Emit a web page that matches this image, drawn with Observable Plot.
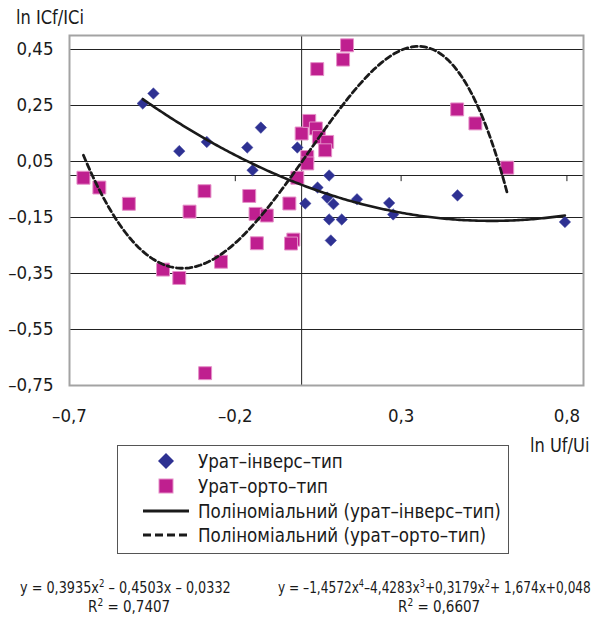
<!DOCTYPE html>
<html>
<head>
<meta charset="utf-8">
<script src="https://cdn.jsdelivr.net/npm/d3@7"></script>
<script src="https://cdn.jsdelivr.net/npm/@observablehq/plot@0.6"></script>
<style>
  html, body { margin: 0; padding: 0; background: #fff; overflow: hidden; }
  #wrap { position: relative; width: 594px; height: 624px; font-family: "Liberation Sans Narrow", "DejaVu Sans Condensed", sans-serif; color: #1a1a1a; }
  #chart { position: absolute; left: 0; top: 0; }
  .abs { position: absolute; white-space: nowrap; transform-origin: 0 50%; }
  #legend { position: absolute; left: 117px; top: 445px; width: 390px; height: 107px; border: 1.5px solid #555; background: #fff; }
  .li { position: absolute; left: 0; height: 24px; font-size: 20px; line-height: 24px; white-space: nowrap; }
  .li svg { position: absolute; top: 0; }
  .li span { position: absolute; left: 80px; transform: scaleX(0.93); transform-origin: 0 50%; }
  sup { font-size: 10px; }
</style>
</head>
<body>
<div id="wrap">
  <div id="chart"></div>
  <div class="abs" style="left:16px; top:6px; font-size:19px; transform:scaleX(0.95);">ln ICf/ICi</div>
  <div class="abs" style="left:530px; top:434px; font-size:19px; transform:scaleX(0.95);">ln Uf/Ui</div>
  <div id="legend"></div>
  <div class="abs" style="left:20px; top:578px; font-size:15px; transform:scaleX(0.95);">y = 0,3935x<sup>2</sup> – 0,4503x – 0,0332</div>
  <div class="abs" style="left:88px; top:597px; font-size:15px;">R<sup>2</sup> = 0,7407</div>
  <div class="abs" style="left:278px; top:578px; font-size:15px; transform:scaleX(0.9);">y = –1,4572x<sup>4</sup>–4,4283x<sup>3</sup>+0,3179x<sup>2</sup>+ 1,674x+0,048</div>
  <div class="abs" style="left:398px; top:597px; font-size:15px;">R<sup>2</sup> = 0,6607</div>
</div>
<script>
// ---- Data ----
const seriesNames = ["Урат–інверс–тип", "Урат–орто–тип"];
const trendNames = ["Поліноміальний (урат–інверс–тип)", "Поліноміальний (урат–орто–тип)"];

const inversX = [-0.479, -0.447, -0.369, -0.286, -0.164, -0.123, -0.148, -0.013, 0.011, 0.048, 0.083, 0.077, 0.096, 0.167, 0.083, 0.121, 0.088, 0.264, 0.276, 0.470, 0.794];
const inversY = [0.257, 0.293, 0.087, 0.120, 0.100, 0.171, 0.019, 0.100, -0.100, -0.043, 0.000, -0.079, -0.102, -0.085, -0.157, -0.157, -0.232, -0.098, -0.139, -0.071, -0.166];

const orthoX = [-0.658, -0.610, -0.521, -0.338, -0.293, -0.418, -0.369, -0.243, -0.291, -0.158, -0.139, -0.105, -0.037, -0.135, -0.025, -0.032, -0.013, 0.017, 0.017, 0.000, 0.023, 0.043, 0.052, 0.077, 0.071, 0.047, 0.125, 0.137, 0.469, 0.524, 0.620];
const orthoY = [-0.008, -0.043, -0.101, -0.129, -0.056, -0.336, -0.366, -0.308, -0.706, -0.073, -0.137, -0.143, -0.100, -0.242, -0.229, -0.243, -0.008, 0.066, 0.043, 0.150, 0.195, 0.168, 0.137, 0.120, 0.090, 0.380, 0.414, 0.465, 0.236, 0.186, 0.028];

// polynomial trendline coefficients as printed (c0, c1, c2, ...)
const inversCoef = [-0.0332, -0.4503, 0.3935];
const orthoCoef = [0.048, 1.674, 0.3179, -4.4283, -1.4572];

const xTicks = [-0.7, -0.2, 0.3, 0.8];
const yTicks = [0.45, 0.25, 0.05, -0.15, -0.35, -0.55, -0.75];

// ---- Build tables ----
const inversPts = inversX.map((x, i) => ({x, y: inversY[i]}));
const orthoPts = orthoX.map((x, i) => ({x, y: orthoY[i]}));
const poly = (c, x) => c.reduce((s, a, k) => s + a * Math.pow(x, k), 0);
function curve(coef, xs) {
  const lo = d3.min(xs), hi = d3.max(xs), n = 200;
  return d3.range(n + 1).map(i => { const x = lo + (hi - lo) * i / n; return {x, y: poly(coef, x)}; });
}
const inversCurve = curve(inversCoef, inversX);
const orthoCurve = curve(orthoCoef, orthoX);

const blue = "#2e3192", pink = "#bf1f8f";
const fmt = (d, p) => (d < 0 ? "–" : "") + Math.abs(d).toFixed(p).replace(".", ",");

const plot = Plot.plot({
  width: 594, height: 430,
  marginLeft: 69, marginRight: 11, marginTop: 35, marginBottom: 45,
  style: {fontFamily: '"Liberation Sans Narrow", "DejaVu Sans Condensed", sans-serif', fontSize: "18px", color: "#1a1a1a", background: "transparent", overflow: "visible"},
  x: {domain: [-0.7, 0.85]},
  y: {domain: [-0.75, 0.5]},
  marks: [
    Plot.ruleY(yTicks, {stroke: "#222", strokeWidth: 1}),
    Plot.ruleY([0], {stroke: "#222", strokeWidth: 1}),
    Plot.ruleX([0], {stroke: "#222", strokeWidth: 1}),
    Plot.ruleX(xTicks, {y1: 0, y2: -0.022, stroke: "#222", strokeWidth: 1}),
    Plot.frame({stroke: "#a3a3a3", strokeWidth: 2}),
    Plot.axisY({ticks: yTicks, tickSize: 0, tickPadding: 16, tickFormat: d => fmt(d, 2), label: null, fontSize: 18.5}),
    Plot.axisX({ticks: xTicks, tickSize: 0, tickPadding: 23, tickFormat: d => fmt(d, 1), label: null, fontSize: 18.5}),
    Plot.dot(inversPts, {x: "x", y: "y", symbol: "diamond2", r: 5.2, fill: blue, stroke: "#4b4ea6", strokeWidth: 0.5}),
    Plot.dot(orthoPts, {x: "x", y: "y", symbol: "square", r: 7.3, fill: pink, stroke: "#e590c8", strokeWidth: 1}),
    Plot.line(inversCurve, {x: "x", y: "y", stroke: "#1a1a1a", strokeWidth: 2.6}),
    Plot.line(orthoCurve, {x: "x", y: "y", stroke: "#1a1a1a", strokeWidth: 2.8, strokeDasharray: "6,3.5"})
  ]
});
document.getElementById("chart").appendChild(plot);

// ---- Legend ----
const legend = document.getElementById("legend");
const items = [
  {name: seriesNames[0], icon: `<polygon points="48,4 56,12 48,20 40,12" fill="${blue}"/>`},
  {name: seriesNames[1], icon: `<rect x="41" y="5" width="14" height="14" fill="${pink}" stroke="#e590c8"/>`},
  {name: trendNames[0], icon: `<line x1="25" x2="71" y1="12" y2="12" stroke="#1a1a1a" stroke-width="3"/>`},
  {name: trendNames[1], icon: `<line x1="25" x2="71" y1="12" y2="12" stroke="#1a1a1a" stroke-width="3" stroke-dasharray="8,4"/>`}
];
const tops = [3, 28, 53, 77];
items.forEach((it, i) => {
  const d = document.createElement("div");
  d.className = "li";
  d.style.top = tops[i] + "px";
  d.innerHTML = `<svg width="80" height="24">${it.icon}</svg><span>${it.name}</span>`;
  legend.appendChild(d);
});
</script>
</body>
</html>
